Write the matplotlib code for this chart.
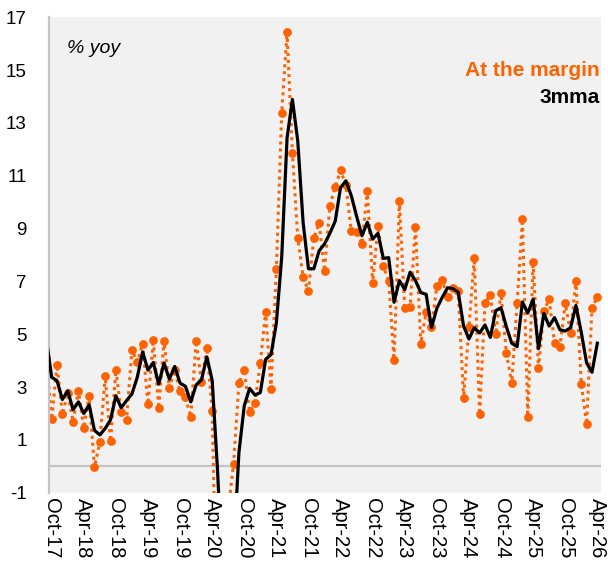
import numpy as np
import pandas as pd
import matplotlib
matplotlib.use("Agg")
import matplotlib.pyplot as plt

plt.rcParams['font.family'] = ['Liberation Sans', 'DejaVu Sans']

## Data: monthly, Sep-17 (partly outside the axis) to Apr-26
months = pd.date_range("2017-09-01", "2026-04-01", freq="MS")

at_the_margin = [
    4.1, 1.78, 3.85, 1.97,                                                   # Sep-Dec 17
    2.76, 1.69, 2.86, 1.45, 2.67, -0.03, 0.92, 3.4, 0.95, 3.66, 2.06, 1.76,  # 2018
    4.41, 3.94, 4.64, 2.35, 4.8, 2.19, 4.75, 2.97, 3.63, 2.84, 2.61, 1.87,   # 2019
    4.75, 3.18, 4.49, 2.1, -7.0, -8.3, -1.67, 0.09, 3.14, 3.65, 2.07, 2.39,  # 2020
    3.92, 5.85, 2.93, 7.47, 13.37, 16.44, 11.87, 8.65, 7.16, 6.64, 8.65, 9.2,  # 2021
    7.4, 9.86, 10.58, 11.2, 10.65, 8.9, 8.87, 8.42, 10.43, 6.94, 9.1, 7.57,  # 2022
    7.02, 4.03, 10.03, 6.0, 6.02, 9.07, 4.64, 5.83, 5.28, 6.83, 7.06, 6.4,   # 2023
    6.74, 6.62, 2.57, 5.28, 7.89, 1.97, 6.2, 6.47, 4.99, 6.55, 4.29, 3.14,   # 2024
    6.17, 9.35, 1.88, 7.75, 3.73, 5.88, 6.32, 4.68, 4.52, 6.17, 5.06, 7.03,  # 2025
    3.12, 1.59, 5.98, 6.42,                                                  # 2026
]

mma3 = [
    4.8, 3.37, 3.24, 2.53,
    2.86, 2.14, 2.44, 2.0, 2.33, 1.36, 1.19, 1.43, 1.76, 2.67, 2.22, 2.49,
    2.74, 3.37, 4.33, 3.64, 3.93, 3.11, 3.91, 3.3, 3.78, 3.15, 3.03, 2.44,
    3.08, 3.27, 4.14, 3.26, -0.14, -4.4, -5.66, -3.29, 0.52, 2.29, 2.95, 2.7,
    2.79, 4.05, 4.23, 5.42, 7.92, 12.43, 13.89, 12.32, 9.23, 7.48, 7.48, 8.16,
    8.42, 8.82, 9.28, 10.55, 10.81, 10.25, 9.47, 8.73, 9.24, 8.6, 8.82, 7.87,
    7.9, 6.21, 7.03, 6.69, 7.35, 7.03, 6.58, 6.51, 5.25, 5.98, 6.39, 6.76,
    6.73, 6.59, 5.31, 4.82, 5.25, 5.05, 5.35, 4.88, 5.89, 6.0, 5.28, 4.66,
    4.53, 6.22, 5.8, 6.33, 4.45, 5.79, 5.31, 5.63, 5.17, 5.12, 5.25, 6.09,
    5.07, 3.91, 3.56, 4.66,
]

y_ticks = list(range(-1, 18, 2))
ORANGE = "#FF6200"

## Figure
fig = plt.figure(figsize=(6.08, 5.76), dpi=100)
ax = fig.add_axes([0.0806, 0.1446, 0.908, 0.8254])
ax.set_facecolor("#f1f1f1")

x = np.arange(len(months)) - 1  # Oct-17 -> 0

ax.axhline(0, color="#c4c4c4", lw=1.6, zorder=1)
ax.plot(x, at_the_margin, color=ORANGE, lw=2.2, linestyle=(0, (1, 1.3)),
        marker="o", markersize=6.3, markeredgewidth=0, zorder=2)
ax.plot(x, mma3, color="black", lw=2.3, zorder=3)

# x ticks every six months (Oct / Apr)
tick_pos = x[1::6]
tick_lab = [m.strftime("%b-%y") for m in months[1::6]]
ax.set_xticks(tick_pos)
ax.set_xticklabels(tick_lab, rotation=270, fontsize=14.5)
ax.set_xlim(-0.5, 102.7)

ax.set_yticks(y_ticks)
ax.set_yticklabels([str(v) for v in y_ticks], fontsize=13.5)
ax.set_ylim(-1, 17)

ax.tick_params(axis="both", length=0)
ax.tick_params(axis="y", pad=16)
ax.tick_params(axis="x", pad=4)

for side in ["top", "right", "bottom"]:
    ax.spines[side].set_visible(False)
ax.spines["left"].set_color("#c4c4c4")
ax.spines["left"].set_linewidth(1.6)

ax.text(0.033, 0.935, "% yoy", transform=ax.transAxes, fontsize=14,
        style="italic", va="center", ha="left")
ax.text(0.998, 0.889, "At the margin", transform=ax.transAxes, fontsize=15,
        fontweight="bold", color=ORANGE, va="center", ha="right")
ax.text(0.998, 0.832, "3mma", transform=ax.transAxes, fontsize=15,
        fontweight="bold", color="black", va="center", ha="right")

fig.savefig("out.png", dpi=100)
